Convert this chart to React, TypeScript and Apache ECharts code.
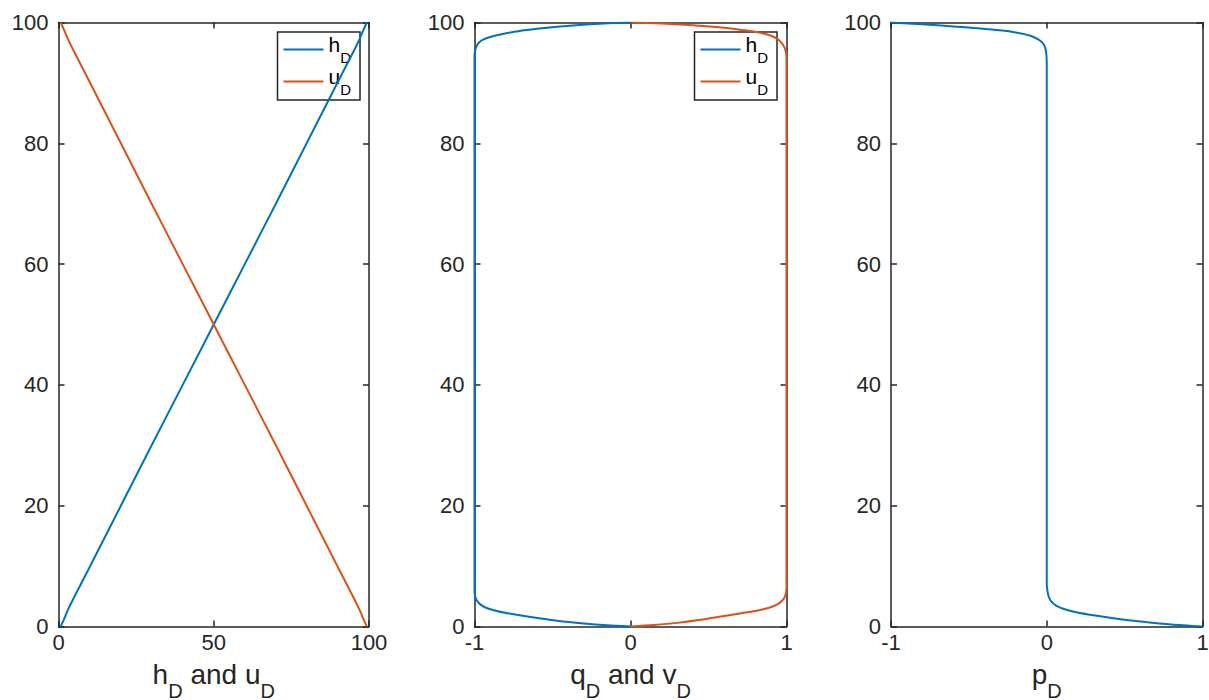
import React, { useEffect, useRef } from "react";
import * as echarts from "echarts";

// ---- data ([x, depth]) ----
const hD1: number[][] = [[0.7,0],[1.6,1],[3,2.7],[5.2,5],[10,9.8],[20,19.9],[30,30],[40,40],[50,50],[60,60],[70,70],[80,80.1],[90,90.2],[94.8,95],[97,97.3],[98.4,99],[99.3,100]];
const uD1: number[][] = [[99.3,0],[98.4,1],[97,2.7],[94.8,5],[90,9.8],[80,19.9],[70,30],[60,40],[50,50],[40,60],[30,70],[20,80.1],[10,90.2],[5.2,95],[3,97.3],[1.6,99],[0.7,100]];
const qD2: number[][] = [[0,100],[-0.2,99.8],[-0.35,99.55],[-0.47,99.3],[-0.6,98.95],[-0.72,98.55],[-0.82,98.1],[-0.9,97.6],[-0.945,97.15],[-0.97,96.7],[-0.985,96.2],[-0.995,95.5],[-1,94.5],[-1,90],[-1,50],[-1,10],[-1,6],[-0.996,5],[-0.985,4.3],[-0.965,3.7],[-0.93,3.15],[-0.87,2.65],[-0.79,2.2],[-0.65,1.6],[-0.47,0.95],[-0.3,0.5],[-0.15,0.2],[0,0]];
const vD2: number[][] = [[0,100],[0.2,99.85],[0.38,99.6],[0.55,99.25],[0.68,98.9],[0.79,98.5],[0.87,98.05],[0.92,97.6],[0.95,97.1],[0.972,96.5],[0.988,95.8],[0.997,95],[1,94],[1,90],[1,50],[1,10],[1,6.5],[0.996,5.5],[0.985,4.7],[0.96,4],[0.92,3.4],[0.85,2.85],[0.75,2.35],[0.6,1.75],[0.45,1.1],[0.3,0.6],[0.15,0.25],[0,0]];
const pD3: number[][] = [[-1,100],[-0.8,99.7],[-0.6,99.35],[-0.45,99.05],[-0.3,98.7],[-0.19,98.3],[-0.11,97.85],[-0.06,97.3],[-0.03,96.7],[-0.012,96],[-0.004,95],[0,93.5],[0,90],[0,50],[0,10],[0,7],[0.004,6],[0.012,5],[0.03,4.1],[0.06,3.45],[0.11,2.9],[0.19,2.35],[0.3,1.85],[0.45,1.3],[0.62,0.8],[0.8,0.35],[1,0]];

const xNames = ["{a|h}{s|D}{a| and u}{s|D}", "{a|q}{s|D}{a| and v}{s|D}", "{a|p}{s|D}"];
const xRanges = [[0, 100, 50], [-1, 1, 1], [-1, 1, 1]];
const yRange = [0, 100, 20];

const BLUE = "#0072BD";
const ORANGE = "#D95319";
const AX = "#262626";
const FONT = "Liberation Sans, Arial, Helvetica, sans-serif";

const grids = [
  { left: 58.5, top: 22.5, width: 310.5, height: 604, outerBoundsMode: "none", containLabel: false },
  { left: 474.5, top: 22.5, width: 312, height: 604, outerBoundsMode: "none", containLabel: false },
  { left: 891, top: 22.5, width: 311.5, height: 604, outerBoundsMode: "none", containLabel: false },
];

function axisBase(gridIndex: number, min: number, max: number, interval: number) {
  return {
    type: "value",
    gridIndex,
    min,
    max,
    interval,
    axisLine: { show: true, onZero: false, lineStyle: { color: AX, width: 1.5 } },
    axisTick: { show: true, inside: true, length: 6, lineStyle: { color: AX, width: 1.5 } },
    splitLine: { show: false },
  };
}

export default function App() {
  const ref = useRef<HTMLDivElement>(null);
  useEffect(() => {
    if (!ref.current) return;
    const chart = echarts.init(ref.current, undefined, { renderer: "svg" });
    const xAxis: any[] = [];
    const yAxis: any[] = [];
    grids.forEach((_, i) => {
      const [mn, mx, iv] = xRanges[i];
      xAxis.push({
        ...axisBase(i, mn, mx, iv),
        position: "bottom",
        name: xNames[i],
        nameLocation: "middle",
        nameGap: 34,
        nameTextStyle: {
          rich: {
            a: { fontSize: 28, fontFamily: FONT, color: AX, verticalAlign: "top", lineHeight: 28 },
            s: { fontSize: 20, fontFamily: FONT, color: AX, verticalAlign: "bottom", lineHeight: 40 },
          },
        },
        axisLabel: { color: AX, fontSize: 22, fontFamily: FONT, margin: 5 },
      });
      xAxis.push({ ...axisBase(i, mn, mx, iv), position: "top", axisLabel: { show: false } });
      yAxis.push({
        ...axisBase(i, yRange[0], yRange[1], yRange[2]),
        position: "left",
        axisLabel: { color: AX, fontSize: 22, fontFamily: FONT, margin: 10 },
      });
      yAxis.push({ ...axisBase(i, yRange[0], yRange[1], yRange[2]), position: "right", axisLabel: { show: false } });
    });

    const mk = (name: string, data: number[][], color: string, g: number) => ({
      type: "line",
      name,
      data,
      xAxisIndex: g * 2,
      yAxisIndex: g * 2,
      symbol: "none",
      showSymbol: false,
      smooth: 0.25,
      lineStyle: { color, width: 2 },
      itemStyle: { color },
      z: 5,
    });

    const legendBase = (left: number) => ({
      data: ["hD", "uD"],
      left,
      top: 32,
      orient: "vertical",
      selectedMode: false,
      borderColor: AX,
      borderWidth: 1.5,
      backgroundColor: "#fff",
      borderRadius: 0,
      padding: [2, 9, 3, 6],
      icon: "rect",
      itemWidth: 40,
      itemHeight: 2,
      itemGap: 1,
      formatter: (n: string) => (n === "hD" ? "{a|h}{s|D}" : "{a|u}{s|D}"),
      textStyle: {
        rich: {
          a: { fontSize: 21, fontFamily: FONT, color: "#000", verticalAlign: "top", lineHeight: 21 },
          s: { fontSize: 15, fontFamily: FONT, color: "#000", verticalAlign: "bottom", lineHeight: 31 },
        },
      },
    });

    chart.setOption({
      animation: false,
      backgroundColor: "#fff",
      grid: grids,
      xAxis,
      yAxis,
      legend: [legendBase(277.5), legendBase(694.5)],
      series: [
        mk("hD", hD1, BLUE, 0),
        mk("uD", uD1, ORANGE, 0),
        mk("hD", qD2, BLUE, 1),
        mk("uD", vD2, ORANGE, 1),
        mk("pD", pD3, BLUE, 2),
      ],
    });
    return () => chart.dispose();
  }, []);
  return (
    <div
      ref={ref}
      style={{ position: "fixed", left: 0, top: 0, width: 1209, height: 700 }}
    />
  );
}
